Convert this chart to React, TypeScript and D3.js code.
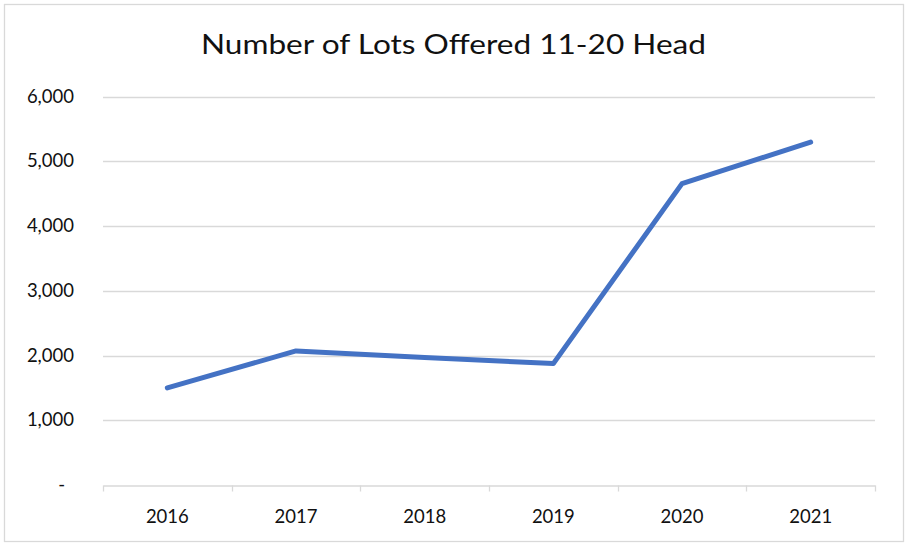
import React, { useRef, useEffect } from "react";
import * as d3 from "d3";

const years = ["2016", "2017", "2018", "2019", "2020", "2021"];
const lotsOffered = [1500, 2070, 1970, 1875, 4655, 5295];
const yTicks = [0, 1000, 2000, 3000, 4000, 5000, 6000];
const title = "Number of Lots Offered 11-20 Head";

const App = () => {
    const plot = useRef(null);

    const width = 908;
    const height = 548;

    useEffect(() => {
        const svg = d3.select(plot.current);
        svg.selectAll("*").remove();

        const font = "Lato, 'Open Sans', sans-serif";
        const textColor = "#111";

        // outer chart border
        svg.append("rect")
            .attr("x", 4.5).attr("y", 4.5)
            .attr("width", 899).attr("height", 537)
            .attr("fill", "white")
            .attr("stroke", "#d9d9d9")
            .attr("stroke-width", 1.3);

        svg.append("text")
            .attr("x", 453.5).attr("y", 54)
            .attr("text-anchor", "middle")
            .attr("font-family", font)
            .attr("font-size", 26)
            .attr("textLength", 505)
            .attr("lengthAdjust", "spacingAndGlyphs")
            .attr("fill", textColor)
            .text(title);

        const x = d3.scaleBand().domain(years).range([103, 875]);
        const y = d3.scaleLinear().domain([0, 6000]).range([485, 96.5]);

        // gridlines
        svg.append("g")
            .selectAll("line")
            .data(yTicks.filter(d => d > 0))
            .join("line")
            .attr("x1", 103).attr("x2", 875)
            .attr("y1", d => Math.round(y(d)) + 0.5)
            .attr("y2", d => Math.round(y(d)) + 0.5)
            .attr("stroke", "#d9d9d9")
            .attr("stroke-width", 1.3);

        // y labels
        svg.append("g")
            .selectAll("text")
            .data(yTicks)
            .join("text")
            .attr("x", d => d === 0 ? 65 : 74)
            .attr("y", d => y(d) + 6)
            .attr("text-anchor", "end")
            .attr("font-family", font)
            .attr("font-size", 18.5)
            .attr("fill", textColor)
            .text(d => d === 0 ? "-" : d3.format(",")(d));

        // x axis
        const xAxis = d3.axisBottom(x).tickSize(0).tickSizeOuter(0);
        const gx = svg.append("g")
            .attr("transform", `translate(0, ${485.5})`)
            .call(xAxis);
        gx.select(".domain").attr("stroke", "#d9d9d9").attr("stroke-width", 1.3);
        gx.selectAll(".tick text")
            .attr("font-family", font)
            .attr("font-size", 18.5)
            .attr("fill", textColor)
            .attr("y", 37)
            .attr("dy", null);

        // category boundary ticks
        const bounds = years.map(d => x(d)).concat([x.range()[1]]);
        gx.append("g")
            .selectAll("line")
            .data(bounds)
            .join("line")
            .attr("x1", d => Math.round(d) + 0.5)
            .attr("x2", d => Math.round(d) + 0.5)
            .attr("y1", 0).attr("y2", 6)
            .attr("stroke", "#d9d9d9")
            .attr("stroke-width", 1.3);

        const line = d3.line()
            .x((d, i) => x(years[i]) + x.bandwidth() / 2)
            .y(d => y(d));

        svg.append("path")
            .datum(lotsOffered)
            .attr("d", line)
            .attr("fill", "none")
            .attr("stroke", "#4472C4")
            .attr("stroke-width", 5)
            .attr("stroke-linecap", "round")
            .attr("stroke-linejoin", "round");
    });

    return (
        <svg ref={plot} width={width} height={height}
            style={{ position: "absolute", left: 0, top: 0 }} />
    );
};

export default App;
